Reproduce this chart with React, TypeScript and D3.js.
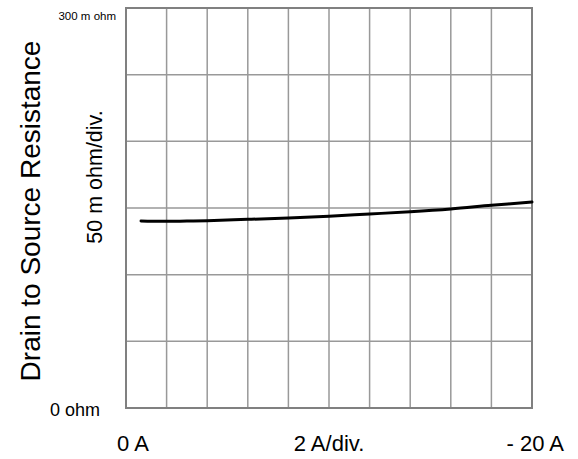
import React from "react";
import * as d3 from "d3";

const currentA = [0.74, 1.3, 2, 3, 4, 6, 8, 10, 12, 14, 16, 18, 20];
const resistanceMOhm = [140.2, 140.0, 140.0, 140.2, 140.5, 141.5, 142.5, 143.8, 145.5, 147.2, 149.3, 152.0, 154.5];
const xTicks = [0, 2, 4, 6, 8, 10, 12, 14, 16, 18, 20];
const yTicks = [0, 50, 100, 150, 200, 250, 300];
const xLabels = ["0 A", "2 A/div.", "- 20 A"];
const yLabels = ["0 ohm", "300 m ohm"];
const yTitle = "Drain to Source Resistance";
const yDivLabel = "50 m ohm/div.";

const W = 578;
const H = 459;
const left = 126, right = 532, top = 8, bottom = 408;
const FONT = "'Liberation Sans', Arial, Helvetica, sans-serif";

export default function App() {
  const x = d3.scaleLinear().domain([0, 20]).range([left, right]);
  const y = d3.scaleLinear().domain([0, 300]).range([bottom, top]);
  const pts = currentA.map((c, i) => [c, resistanceMOhm[i]] as [number, number]);
  const line = d3
    .line<[number, number]>()
    .x((d) => x(d[0]))
    .y((d) => y(d[1]))
    .curve(d3.curveCatmullRom);

  return (
    <svg
      width={W}
      height={H}
      style={{ position: "absolute", left: 0, top: 0, background: "#fff" }}
      fontFamily={FONT}
    >
      {xTicks.slice(1, -1).map((t) => (
        <line key={"vx" + t} x1={x(t)} x2={x(t)} y1={y(0)} y2={y(300)} stroke="#999" strokeWidth={1.5} />
      ))}
      {yTicks.slice(1, -1).map((t) => (
        <line key={"hy" + t} x1={x(0)} x2={x(20)} y1={y(t)} y2={y(t)} stroke="#999" strokeWidth={1.5} />
      ))}
      <rect x={left} y={top} width={right - left} height={bottom - top} fill="none" stroke="#808080" strokeWidth={2} />
      <path d={line(pts) || ""} fill="none" stroke="#000" strokeWidth={3} strokeLinecap="round" />

      <text x={116} y={20} fontSize={11.5} textAnchor="end">{yLabels[1]}</text>
      <text x={100} y={416} fontSize={18} textAnchor="end">{yLabels[0]}</text>
      <text x={117} y={451} fontSize={22} textAnchor="start">{xLabels[0]}</text>
      <text x={329} y={451} fontSize={22} textAnchor="middle">{xLabels[1]}</text>
      <text x={564} y={451} fontSize={22} textAnchor="end">{xLabels[2]}</text>
      <text transform="translate(40,211) rotate(-90)" fontSize={28} textAnchor="middle">{yTitle}</text>
      <text transform="translate(102,177) rotate(-90)" fontSize={21.5} textAnchor="middle">{yDivLabel}</text>
    </svg>
  );
}
